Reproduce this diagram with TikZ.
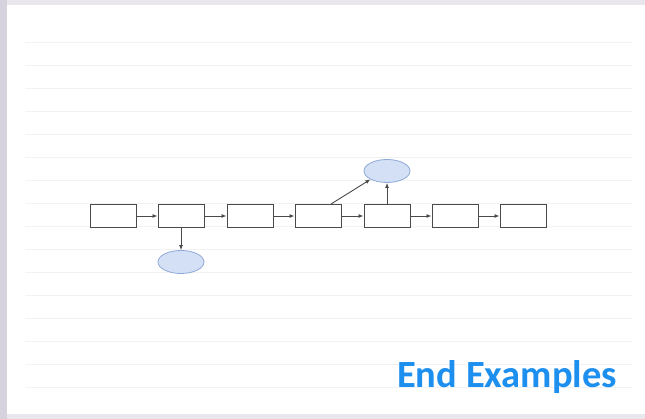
\documentclass[tikz,border=0pt]{standalone}
\usepackage{fontspec}
\newfontfamily\titrefont{Carlito}
\usetikzlibrary{shapes.geometric,arrows.meta}

\definecolor{cadregris}{HTML}{D6D2DE}
\definecolor{hautgris}{HTML}{E9E7ED}
\definecolor{traitgris}{HTML}{4A4A4A}
\definecolor{bullefond}{HTML}{D3E0F6}
\definecolor{bullebord}{HTML}{8FA9D6}
\definecolor{titrebleu}{HTML}{1C8FEF}

\begin{document}
\begin{tikzpicture}[x=1pt, y=-1pt, >=latex,
		etape/.style={rectangle, draw=traitgris, fill=white, line width=1pt, minimum width=46pt, minimum height=23pt, inner sep=0pt},
		bulle/.style={ellipse, draw=bullebord, fill=bullefond, line width=0.8pt, minimum width=46pt, minimum height=23pt, inner sep=0pt},
		fleche/.style={-{Latex[length=5pt,width=4pt]}, draw=traitgris, line width=0.9pt},
		ligne/.style={draw=black!5, line width=0.8pt}]
			% fond de la page
			\fill[white] (0,0) rectangle (645,419);
			\fill[hautgris] (0,0) rectangle (645,5);
			\fill[hautgris] (0,414) rectangle (645,419);
			\fill[cadregris] (0,0) rectangle (7,419);
			\foreach \y in {42,65,...,387} \draw[ligne] (25,\y) -- (632,\y);
			% la chaine d'etapes
			\foreach \x [count=\i] in {113,181,250,318,387,455,523}
				\draw (\x,216) node[etape] (E\i) {};
			\foreach \a/\b in {1/2,2/3,3/4,4/5,5/6,6/7}
				\draw[fleche] (E\a) -- (E\b);
			% les deux bulles
			\draw (181,262) node[bulle] (B1) {};
			\draw (387,171) node[bulle] (B2) {};
			\draw[fleche] (E2) -- (B1);
			\draw[fleche] (E5) -- (B2);
			\draw[fleche] ([xshift=13pt]E4.north) -- (B2.south west);
			\node[anchor=base west, inner sep=0pt, text=titrebleu, font=\titrefont\bfseries\fontsize{38.5}{44}\selectfont] (fin) at (397,387) {End Examples};
		\end{tikzpicture}
\end{document}
